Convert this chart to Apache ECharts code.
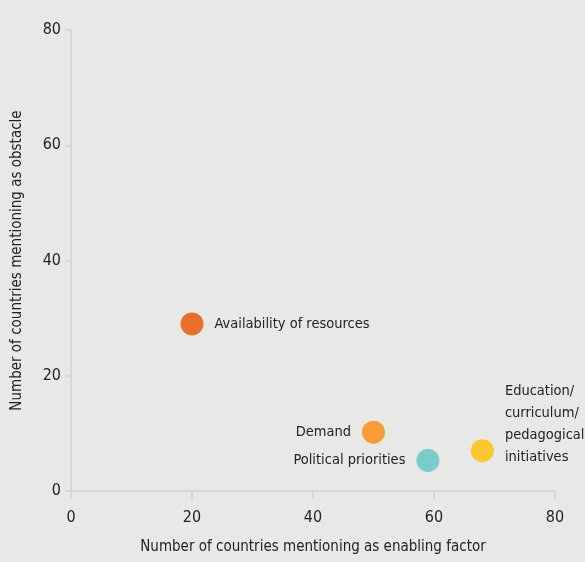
<!DOCTYPE html>
<html>
<head>
<meta charset="utf-8">
<script src="https://cdn.jsdelivr.net/npm/echarts@6/dist/echarts.min.js"></script>
<style>
html,body{margin:0;padding:0;background:#e8e9e7;}
#chart{width:585px;height:562px;}
</style>
</head>
<body>
<div id="chart"></div>
<script>
const categories = ["Availability of resources", "Demand", "Political priorities", "Education/\ncurriculum/\npedagogical\ninitiatives"];
const enablingValues = [20, 50, 59, 68];
const obstacleValues = [29, 10.2, 5.3, 7];
const xTicks = [0, 20, 40, 60, 80];
const yTicks = [0, 20, 40, 60, 80];

const pointColors = ["#e8702a", "#f89c3a", "#7accc8", "#fdc82f"];
const labelSides = ["right", "left", "left", "right"];
const FONT = '"Liberation Sans Narrow", "DejaVu Sans Condensed", "Noto Sans", sans-serif';

const chart = echarts.init(document.getElementById('chart'));
const series = categories.map((name, i) => ({
  type: 'scatter',
  name: name,
  symbolSize: 23,
  itemStyle: { color: pointColors[i], opacity: 1 },
  label: {
    show: true,
    formatter: name,
    position: labelSides[i],
    distance: 11,
    offset: i === 3 ? [0, -26] : [0, 0],
    color: '#222',
    fontSize: 14.5,
    lineHeight: 22,
    fontFamily: FONT
  },
  emphasis: { disabled: true },
  data: [[enablingValues[i], obstacleValues[i]]]
}));

chart.setOption({
  backgroundColor: '#e8e9e7',
  animation: false,
  grid: { left: 71, right: 30, top: 30, bottom: 71, outerBoundsMode: 'none', containLabel: false },
  xAxis: {
    type: 'value', min: xTicks[0], max: xTicks[xTicks.length - 1], interval: 20,
    name: 'Number of countries mentioning as enabling factor',
    nameLocation: 'middle', nameGap: 49,
    nameTextStyle: { color: '#222', fontSize: 15, fontFamily: FONT },
    axisLine: { show: true, lineStyle: { color: '#cfd1cf', width: 1.5 } },
    axisTick: { show: true, length: 8, lineStyle: { color: '#cfd1cf', width: 1.5 } },
    axisLabel: { color: '#222', fontSize: 16, margin: 19, fontFamily: FONT },
    splitLine: { show: false }
  },
  yAxis: {
    type: 'value', min: yTicks[0], max: yTicks[yTicks.length - 1], interval: 20,
    name: 'Number of countries mentioning as obstacle',
    nameLocation: 'middle', nameGap: 46,
    nameTextStyle: { color: '#222', fontSize: 15, fontFamily: FONT },
    axisLine: { show: true, lineStyle: { color: '#cfd1cf', width: 1.5 } },
    axisTick: { show: true, length: 6, lineStyle: { color: '#cfd1cf', width: 1.5 } },
    axisLabel: { color: '#222', fontSize: 16, margin: 10, fontFamily: FONT },
    splitLine: { show: false }
  },
  series: series
});
</script>
</body>
</html>
